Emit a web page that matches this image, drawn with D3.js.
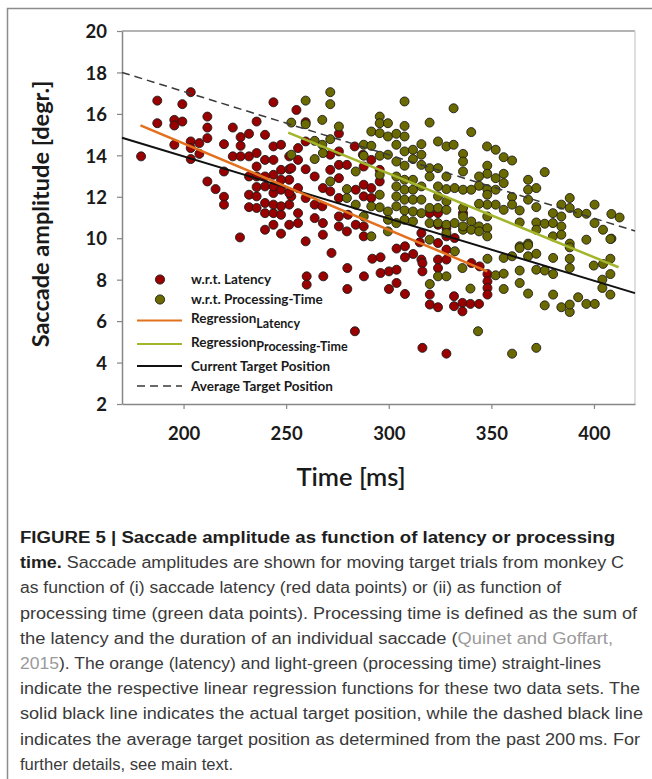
<!DOCTYPE html>
<html>
<head>
<meta charset="utf-8">
<script src="https://cdn.jsdelivr.net/npm/d3@7"></script>
<style>
  body { margin: 0; background: #fff; }
  svg { display: block; }
</style>
</head>
<body>
<svg id="chart" width="652" height="779"></svg>
<script>
// saccade latency (red points) : time [ms] / amplitude [deg]
const latencyTime = [
  179.3,187.2,187.2,203.5,199.4,195.5,199.4,195.5,195.5,203.5,203.5,203.5,207.7,207.7,211.6,211.6,211.6,211.6,215.6,219.7,
  219.7,219.7,219.7,224,224,227.8,227.8,227.8,227.5,231.9,231.9,231.9,231.9,231.9,235.6,235.6,235.6,235.6,235.6,235.6,
  239.7,239.7,239.7,239.7,239.7,239.7,243.8,243.8,243.8,243.8,243.8,243.8,243.8,247.5,247.5,247.5,247.5,247.5,251.5,251.5,
  251.5,251.5,251.5,255,259.5,259.5,255.8,255.8,252.5,259.5,263.9,271.5,275.7,271.5,275.7,279.6,283.4,287.4,267.9,275.7,
  255.8,252.5,259.5,263.9,271.5,267.6,275.7,283.9,287.8,291.5,287.8,291.5,255.8,255.8,263.9,267.9,275.7,280.1,275.7,283.9,
  287.8,267.9,259.5,279.6,287.8,291.5,287.8,295.6,319.9,324,324,315.9,332.1,336.2,275.7,295.6,315.9,328.1,328.1,324,
  272.1,260,260,268.1,279.8,279.8,287.9,292,296,296,300.1,303.8,303.8,300.1,307.9,303.8,307.9,307.9,311.9,283.5,
  315.1,316.4,316.4,324,324,328.1,328.1,320,320,324,331.8,331.8,335.9,335.9,339.8,344,340.3,344.3,348.1,348.1,
  348.1,348.1,316.4,328.1,
  239.7,243.8,243.8,247.5,247.5,251.5,235.6
];
const latencyAmp = [
  13.95,16.64,15.55,17.05,16.47,15.71,15.63,15.44,14.51,14.67,14.35,13.82,14.59,14.07,15.87,15.34,14.83,12.74,12.37,14.54,
  13.22,12.0,11.62,15.34,13.95,14.88,14.46,13.95,10.04,15.04,13.95,12.98,12.1,11.5,15.63,14.11,13.46,12.47,12.02,11.46,
  14.99,13.78,12.5,11.7,11.21,10.41,16.56,14.43,13.78,13.06,12.18,11.21,10.65,14.51,13.3,12.34,11.13,10.22,13.95,13.33,
  12.82,11.62,10.65,16.19,15.6,14.67,14.35,13.78,13.38,13.33,12.98,13.3,13.54,14.03,14.19,13.54,14.43,14.03,12.42,12.9,
  12.42,12.02,11.94,11.62,12.26,11.54,11.94,12.34,12.58,12.42,12.02,11.94,11.21,10.73,10.97,10.73,11.05,11.13,10.57,10.65,
  10.57,10.17,9.85,10.33,10.09,13.78,13.46,13.3,11.21,11.21,9.77,10.25,10.01,11.21,15.05,12.74,8.97,10.49,10.09,10.65,
  9.29,8.16,7.76,8.16,8.56,7.55,8.16,9.01,9.08,8.32,8.4,8.48,7.84,7.55,7.31,9.5,9.61,9.08,9.24,5.51,
  9.8,8.8,8.4,8.97,8.56,8.97,9.45,7.28,6.8,6.67,7.2,6.72,6.88,6.47,6.83,6.83,8.8,8.64,8.27,7.92,
  7.6,7.28,4.71,4.43,
  12.98,12.5,11.62,12.82,11.54,12.18,12.98
];

// processing time (green points) : time [ms] / amplitude [deg]
const procTime = [
  271.5,271.5,259.5,307.7,331.6,319.9,267.6,275.7,259.5,252.5,295.6,295.6,299.6,307.7,291.5,295.6,299.6,303.7,307.7,271.5,
  263.9,267.6,287.8,291.5,303.7,315.9,324,328.1,331.6,252.5,263.9,267.9,287.8,295.6,299.6,307.7,311.8,311.8,315.9,303.7,
  307.7,315.9,319.9,324,328.1,336.2,336.2,336.2,283.9,295.6,303.7,307.7,311.8,319.9,271.5,279.6,279.6,303.7,307.7,311.8,
  315.9,324,328.1,332.1,336.2,295.6,303.7,307.7,311.8,315.9,324,328.1,283.9,291.5,295.6,299.6,303.7,307.7,311.8,315.9,
  319.9,324,328.1,336.2,336.2,299.6,303.7,307.7,311.8,319.9,324,328.1,332.1,299.6,291.5,319.9,328.1,336.2,287.8,
  340.2,347.9,352.1,356,360.1,348,348,344,352.1,356,356,344,340.2,348,352.1,348,360.1,367.9,367.9,371.9,
  367.9,376,371.9,360.1,356,352.1,348,344,348,344,340.2,348,348,363.8,363.8,371.9,376,371.9,380,380,
  384.1,384.1,384.1,388.2,388.2,392.2,396.3,400.3,400.3,404.4,408.5,412.5,396.3,408.5,380,384.1,388.2,367.9,363.8,336.2,
  340.2,344,
  332.2,348.1,335.9,324,328.1,320,339.8,352.1,356,356,356,360.1,363.8,367.9,367.9,363.8,363.8,367.9,371.9,371.9,
  376,380.1,380.1,380.1,376,384.1,388.2,388.2,392.3,396.3,400.4,388.2,388.2,388.2,399.9,404.1,404.1,408,408,408,
  408,404.4,343.5,360.1,371.9
];
const procAmp = [
  17.05,16.47,16.64,16.6,16.27,15.58,15.71,15.39,15.5,15.58,15.87,15.55,15.55,15.42,15.15,15.07,14.91,15.04,14.91,14.78,
  14.7,14.51,14.51,14.46,14.51,14.54,14.67,14.43,14.51,14.03,13.82,14.11,13.98,13.98,14.03,14.19,14.27,13.82,14.03,13.7,
  13.5,13.54,13.38,13.38,12.98,14.07,13.7,13.22,13.22,13.06,12.98,12.82,12.82,12.98,12.74,12.37,11.94,12.5,12.34,12.34,
  12.5,12.5,12.37,12.42,12.34,12.1,12.02,11.86,11.86,11.86,12.02,11.78,11.62,11.54,11.49,11.29,11.54,11.34,11.29,11.21,
  11.46,11.46,11.37,11.46,11.05,10.89,10.73,10.89,10.81,10.73,10.73,10.65,10.73,10.33,10.09,9.93,10.25,10.41,11.05,
  15.12,14.43,14.27,13.91,13.75,13.5,13.11,12.98,12.9,13.11,12.66,12.53,12.34,12.37,12.34,12.1,11.99,12.82,12.34,12.42,
  11.86,13.19,11.5,11.62,11.37,11.62,11.62,11.66,11.05,10.57,10.81,10.49,10.09,11.34,10.76,10.76,10.7,10.41,11.21,10.73,
  11.62,11.05,10.57,11.94,11.46,11.21,11.18,11.62,10.73,10.41,11.17,11.0,9.93,9.98,10.09,10.17,9.74,9.74,9.61,10.57,
  10.41,10.33,
  9.37,9.01,8.56,8.16,8.16,7.79,7.57,8.21,8.29,7.55,9.05,9.13,9.53,9.66,9.13,8.44,7.84,7.33,9.25,8.48,
  8.44,9.05,8.27,7.28,6.76,6.67,6.44,6.8,7.15,6.83,6.83,8.56,9.01,9.56,8.68,8.0,7.6,7.28,8.27,9.01,
  9.96,8.76,5.51,4.43,4.71
];

// straight lines: [start, end]
const regLatencyTime = [179, 348];
const regLatencyAmp = [15.45, 8.4];
const regProcTime = [251, 412];
const regProcAmp = [15.1, 8.6];
const currentTargetTime = [170, 420];
const currentTargetAmp = [14.85, 7.35];
const averageTargetTime = [170, 420];
const averageTargetAmp = [18, 10.35];

const xTicks = [200, 250, 300, 350, 400];
const yTicks = [2, 4, 6, 8, 10, 12, 14, 16, 18, 20];

const captionLines = [
  [['FIGURE 5 | Saccade amplitude as function of latency or processing', 'b']],
  [['time.', 'b'], [' Saccade amplitudes are shown for moving target trials from monkey C', 'n']],
  [['as function of (i) saccade latency (red data points) or (ii) as function of', 'n']],
  [['processing time (green data points). Processing time is defined as the sum of', 'n']],
  [['the latency and the duration of an individual saccade (', 'n'], ['Quinet and Goffart,', 'l']],
  [['2015', 'l'], ['). The orange (latency) and light-green (processing time) straight-lines', 'n']],
  [['indicate the respective linear regression functions for these two data sets. The', 'n']],
  [['solid black line indicates the actual target position, while the dashed black line', 'n']],
  [['indicates the average target position as determined from the past 200\u2009ms. For', 'n']],
  [['further details, see main text.', 'n']]
];

const C = {
  red: '#990000',
  green: '#6b6a00',
  orange: '#e3701c',
  lime: '#a3b52a',
  axis: '#868686',
  frame: '#8c8c8c'
};
const chartFont = 'Lato, "Open Sans", sans-serif';

const svg = d3.select('#chart');

// outer frame (open on the right / bottom, as in the page crop)
svg.append('path')
   .attr('d', 'M7.5,790 V8.5 H665')
   .attr('fill', 'none')
   .attr('stroke', C.frame)
   .attr('stroke-width', 1.5);

const x = d3.scaleLinear().domain([170, 420]).range([122, 635]);
const y = d3.scaleLinear().domain([2, 20]).range([404, 31]);

// plot area border
svg.append('line')
   .attr('x1', x(170)).attr('x2', x(420))
   .attr('y1', y(20)).attr('y2', y(20))
   .attr('stroke', '#9a9a9a').attr('stroke-width', 1.5);
svg.append('line')
   .attr('x1', x(420)).attr('x2', x(420))
   .attr('y1', y(20)).attr('y2', y(2))
   .attr('stroke', '#d4d4d4').attr('stroke-width', 1.5);

// axes
const xAxisGroup = svg.append('g')
   .attr('transform', `translate(0,${y(2)})`)
   .call(d3.axisBottom(x).tickValues(xTicks).tickSize(5).tickSizeOuter(0));
const yAxisGroup = svg.append('g')
   .attr('transform', `translate(${x(170)},0)`)
   .call(d3.axisLeft(y).tickValues(yTicks).tickSize(5).tickSizeOuter(0));

[xAxisGroup, yAxisGroup].forEach(g => {
  g.select('.domain').attr('stroke', C.axis).attr('stroke-width', 1.5);
  g.selectAll('.tick line').attr('stroke', C.axis).attr('stroke-width', 1.2);
  g.selectAll('.tick text')
   .attr('fill', '#1a1a1a')
   .attr('font-family', chartFont)
   .attr('font-weight', 700)
   .attr('font-size', 18.5);
});
xAxisGroup.selectAll('.tick text').attr('dy', '1.5em');
yAxisGroup.selectAll('.tick text').attr('x', -15).attr('dy', '0.36em');

// axis titles
svg.append('text')
   .attr('transform', 'translate(49,214) rotate(-90)')
   .attr('text-anchor', 'middle')
   .attr('font-family', chartFont)
   .attr('font-weight', 700)
   .attr('font-size', 23.5)
   .attr('fill', '#1a1a1a')
   .text('Saccade amplitude [degr.]');
svg.append('text')
   .attr('x', 351).attr('y', 486)
   .attr('text-anchor', 'middle')
   .attr('font-family', chartFont)
   .attr('font-weight', 600)
   .attr('font-size', 25.5)
   .attr('fill', '#1a1a1a')
   .text('Time [ms]');

// scatter points
const dots = (times, amps, fill) => {
  svg.append('g')
     .selectAll('circle')
     .data(d3.zip(times, amps))
     .join('circle')
     .attr('cx', d => x(d[0]))
     .attr('cy', d => y(d[1]))
     .attr('r', 4.5)
     .attr('fill', fill)
     .attr('stroke', '#1c1c1c')
     .attr('stroke-width', 0.9);
};
dots(latencyTime, latencyAmp, C.red);
dots(procTime, procAmp, C.green);

// lines
const line = d3.line().x(d => x(d[0])).y(d => y(d[1]));
const drawLine = (times, amps, color, width, dash) => {
  svg.append('path')
     .datum(d3.zip(times, amps))
     .attr('d', line)
     .attr('fill', 'none')
     .attr('stroke', color)
     .attr('stroke-width', width)
     .attr('stroke-dasharray', dash);
};
drawLine(averageTargetTime, averageTargetAmp, '#3a3a3a', 1.5, '8,5');
drawLine(currentTargetTime, currentTargetAmp, '#111', 2, null);
drawLine(regLatencyTime, regLatencyAmp, C.orange, 2.5, null);
drawLine(regProcTime, regProcAmp, C.lime, 2.5, null);

// legend
const legend = svg.append('g')
   .attr('font-family', chartFont)
   .attr('font-weight', 700)
   .attr('font-size', 13.5)
   .attr('fill', '#1a1a1a');
const legendRows = [
  {kind: 'dot', color: C.red, label: 'w.r.t. Latency', y: 279.5},
  {kind: 'dot', color: C.green, label: 'w.r.t. Processing-Time', y: 299.5},
  {kind: 'line', color: C.orange, label: 'Regression', sub: 'Latency', y: 320.5},
  {kind: 'line', color: C.lime, label: 'Regression', sub: 'Processing-Time', y: 344},
  {kind: 'line', color: '#111', label: 'Current Target Position', y: 366},
  {kind: 'dash', color: '#3a3a3a', label: 'Average Target Position', y: 386}
];
legendRows.forEach(r => {
  if (r.kind === 'dot')
    legend.append('circle')
          .attr('cx', 160).attr('cy', r.y).attr('r', 4.6)
          .attr('fill', r.color).attr('stroke', '#1c1c1c').attr('stroke-width', 0.9);
  else
    legend.append('line')
          .attr('x1', 137).attr('x2', 182).attr('y1', r.y).attr('y2', r.y)
          .attr('stroke', r.color)
          .attr('stroke-width', r.kind === 'dash' ? 1.5 : 2)
          .attr('stroke-dasharray', r.kind === 'dash' ? '8,5' : null);
  const t = legend.append('text')
                  .attr('x', 191).attr('y', r.y - (r.sub ? 2 : 0))
                  .attr('dy', '0.35em')
                  .text(r.label);
  if (r.sub)
    t.append('tspan').attr('dy', 4.5).attr('font-size', 12.5).text(r.sub);
});

// caption (line end positions taken from the page, last line left ragged)
const captionRight = [615, 624, 561, 637, 613, 601, 640, 643, 640, 233];
const captionStyle = {
  b: {weight: 700, fill: '#1e1e1e'},
  n: {weight: 400, fill: '#3a3a3a'},
  l: {weight: 400, fill: '#9a9a9a'}
};
const caption = svg.append('g')
   .attr('font-family', '"Liberation Sans", Arial, sans-serif')
   .attr('font-size', 16)
   .style('white-space', 'pre');
captionLines.forEach((segs, i) => {
  const t = caption.append('text').attr('x', 20).attr('y', 543 + i * 25.2);
  t.attr('textLength', captionRight[i] - 20).attr('lengthAdjust', 'spacingAndGlyphs');
  segs.forEach(([txt, s]) => {
    t.append('tspan')
     .attr('font-weight', captionStyle[s].weight)
     .attr('fill', captionStyle[s].fill)
     .text(txt);
  });
});
</script>
</body>
</html>
